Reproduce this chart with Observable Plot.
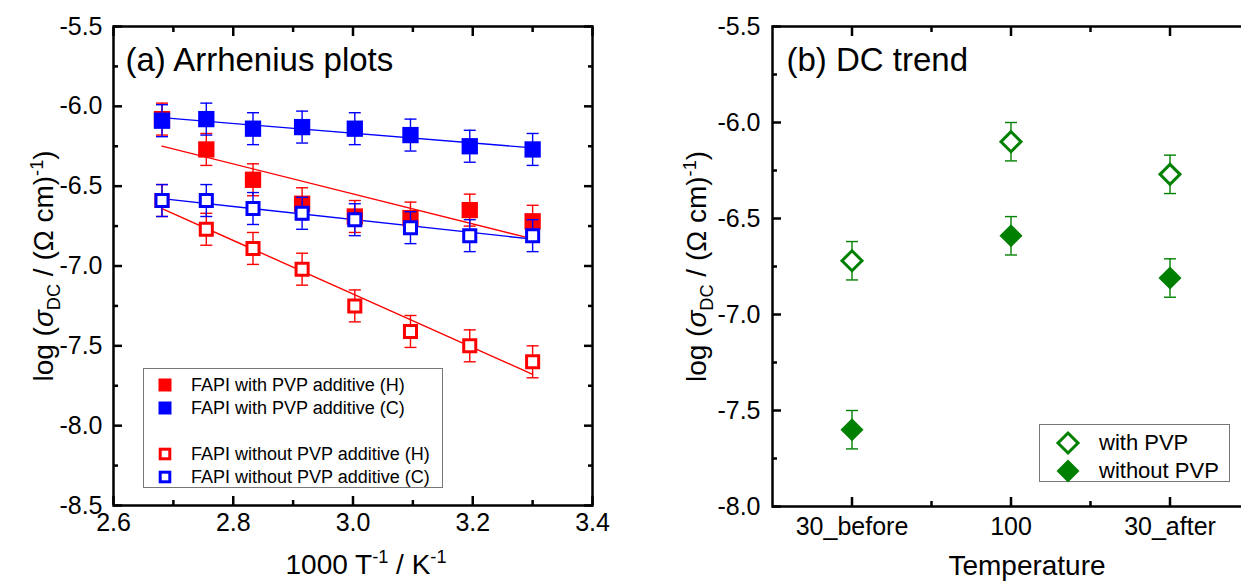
<!DOCTYPE html>
<html><head><meta charset="utf-8">
<script src="https://cdn.jsdelivr.net/npm/d3@7"></script>
<script src="https://cdn.jsdelivr.net/npm/@observablehq/plot@0.6"></script>
<style>
html,body{margin:0;padding:0;background:#fff;width:1241px;height:581px;overflow:hidden;}
#wrap{position:relative;width:1241px;height:581px;overflow:hidden;font-family:"Liberation Sans",Arial,sans-serif;color:#000;}
.panel{position:absolute;top:0;}
.panel svg{max-width:none !important;display:block;}
.legend{position:absolute;border:1px solid #777;background:#fff;box-sizing:border-box;}
.legend .row{position:absolute;left:0;height:0;white-space:nowrap;}
.legend .row svg{position:absolute;overflow:visible;}
.legend .row span{position:absolute;top:0;transform:translateY(-50%);line-height:1;}
</style></head>
<body><div id="wrap"></div>
<script>
// ---------- Panel (a) data ----------
const invT   = [2.681, 2.755, 2.833, 2.915, 3.003, 3.096, 3.195, 3.300];
const pvpH   = [-6.08, -6.27, -6.46, -6.61, -6.69, -6.70, -6.65, -6.72];
const pvpC   = [-6.09, -6.08, -6.14, -6.13, -6.14, -6.18, -6.25, -6.27];
const noPvpH = [-6.59, -6.77, -6.89, -7.02, -7.25, -7.41, -7.50, -7.60];
const noPvpC = [-6.59, -6.59, -6.64, -6.67, -6.71, -6.76, -6.81, -6.81];
const errA = 0.1;
const seriesNamesA = ["FAPI with PVP additive (H)", "FAPI with PVP additive (C)", "FAPI without PVP additive (H)", "FAPI without PVP additive (C)"];
const seriesColorsA = ["#ff0000", "#0000ff", "#ff0000", "#0000ff"];
const seriesFilledA = [true, true, false, false];
const xTicksA = [2.6, 2.8, 3.0, 3.2, 3.4];
const xMinorA = [2.7, 2.9, 3.1, 3.3];
const yTicksA = [-8.5, -8.0, -7.5, -7.0, -6.5, -6.0, -5.5];
const yMinorA = [-8.25, -7.75, -7.25, -6.75, -6.25, -5.75];

// ---------- Panel (b) data ----------
const categories = ["30_before", "100", "30_after"];
const withPVP    = [-6.72, -6.10, -6.27];
const withoutPVP = [-7.60, -6.59, -6.81];
const errB = 0.1;
const seriesNamesB = ["with PVP", "without PVP"];
const greenB = "#008000";
const yTicksB = [-8.0, -7.5, -7.0, -6.5, -6.0, -5.5];
const yMinorB = [-7.75, -7.25, -6.75, -6.25, -5.75];
const xMinorB = [1.5, 2.5];

const FONT = "Liberation Sans, Arial, sans-serif";
const TICKFS = 25;
const capSymbol = {draw(ctx) { ctx.moveTo(-6, 0); ctx.lineTo(6, 0); }};

function frameAxes(xMajor, xMinor, yMajor, yMinor, xFmt, yFmt, xPad, yPad) {
  const tk = {stroke: "black", strokeWidth: 2.5, label: null, text: null};
  return [
    Plot.axisX({anchor: "bottom", ticks: xMajor, tickSize: -9, ...tk}),
    Plot.axisX({anchor: "bottom", ticks: xMinor, tickSize: -5, ...tk}),
    Plot.axisX({anchor: "top", ticks: xMajor, tickSize: -9, ...tk}),
    Plot.axisX({anchor: "top", ticks: xMinor, tickSize: -5, ...tk}),
    Plot.axisY({anchor: "left", ticks: yMajor, tickSize: -9, ...tk}),
    Plot.axisY({anchor: "left", ticks: yMinor, tickSize: -5, ...tk}),
    Plot.axisY({anchor: "right", ticks: yMajor, tickSize: -9, ...tk}),
    Plot.axisY({anchor: "right", ticks: yMinor, tickSize: -5, ...tk}),
    Plot.axisX({anchor: "bottom", ticks: xMajor, tickSize: 0, tickPadding: xPad, tickFormat: xFmt, fontSize: TICKFS, label: null, fill: "black"}),
    Plot.axisY({anchor: "left", ticks: yMajor, tickSize: 0, tickPadding: yPad, tickFormat: yFmt, fontSize: TICKFS, label: null, fill: "black"}),
    Plot.frame({stroke: "black", strokeWidth: 2.5})
  ];
}

function richify(svg, plain, parts, fs) {
  svg.querySelectorAll("text").forEach(t => {
    if (t.textContent !== plain) return;
    t.textContent = "";
    let shift = 0;
    for (const p of parts) {
      const ts = document.createElementNS("http://www.w3.org/2000/svg", "tspan");
      ts.textContent = p.t;
      const target = p.sub ? 0.22 * fs : p.sup ? -0.38 * fs : 0;
      const d = target - shift;
      if (d) ts.setAttribute("dy", d);
      shift = target;
      if (p.sub || p.sup) ts.setAttribute("font-size", 0.65 * fs);
      if (p.it) ts.setAttribute("font-style", "italic");
      t.appendChild(ts);
    }
  });
}

const yTitlePlain = "log (σDC / (Ω cm)-1)";
const yTitleParts = [{t: "log ("}, {t: "σ", it: true}, {t: "DC", sub: true}, {t: " / (Ω cm)"}, {t: "-1", sup: true}, {t: ")"}];
const xTitleAPlain = "1000 T-1 / K-1";
const xTitleAParts = [{t: "1000 T"}, {t: "-1", sup: true}, {t: " / K"}, {t: "-1", sup: true}];
const YFS = 28;

// ---------- Panel (a) ----------
const seriesA = [pvpH, pvpC, noPvpH, noPvpC].map((vals, i) => ({
  name: seriesNamesA[i], color: seriesColorsA[i], filled: seriesFilledA[i],
  rows: vals.map((v, j) => ({x: invT[j], y: v}))
}));

const marksA = [];
for (const s of seriesA) {
  marksA.push(Plot.linearRegressionY(s.rows, {x: "x", y: "y", stroke: s.color, strokeWidth: 1.4, ci: 0}));
}
for (const s of seriesA) {
  marksA.push(Plot.ruleX(s.rows, {x: "x", y1: d => d.y - errA, y2: d => d.y + errA, stroke: s.color, strokeWidth: 1.4}));
  marksA.push(Plot.dot(s.rows, {x: "x", y: d => d.y - errA, symbol: capSymbol, stroke: s.color, fill: "none", strokeWidth: 1.4}));
  marksA.push(Plot.dot(s.rows, {x: "x", y: d => d.y + errA, symbol: capSymbol, stroke: s.color, fill: "none", strokeWidth: 1.4}));
  if (s.filled) marksA.push(Plot.dot(s.rows, {x: "x", y: "y", symbol: "square", r: 9.2, fill: s.color, stroke: "none"}));
  else marksA.push(Plot.dot(s.rows, {x: "x", y: "y", symbol: "square", r: 6.8, fill: "white", stroke: s.color, strokeWidth: 3}));
}

const plotA = Plot.plot({
  width: 620, height: 581,
  marginLeft: 113, marginRight: 28, marginTop: 26, marginBottom: 76,
  style: {fontFamily: FONT, color: "black", background: "white", maxWidth: "none"},
  x: {domain: [2.6, 3.4]},
  y: {domain: [-8.5, -5.5]},
  marks: [
    ...marksA,
    ...frameAxes(xTicksA, xMinorA, yTicksA, yMinorA, d => d.toFixed(1), d => d.toFixed(1), 8, 11),
    Plot.text(["(a) Arrhenius plots"], {text: d => d, frameAnchor: "top-left", textAnchor: "start", lineAnchor: "bottom", dx: 12, dy: 44, fontSize: 33, fill: "black"}),
    Plot.text([xTitleAPlain], {text: d => d, frameAnchor: "bottom", textAnchor: "middle", lineAnchor: "bottom", dx: 13, dy: 68, fontSize: 28, fill: "black"}),
    Plot.text([yTitlePlain], {text: d => d, frameAnchor: "left", textAnchor: "middle", lineAnchor: "middle", rotate: -90, dx: -69, fontSize: YFS, fill: "black"})
  ]
});
richify(plotA, yTitlePlain, yTitleParts, YFS);
richify(plotA, xTitleAPlain, xTitleAParts, 28);

// ---------- Panel (b) ----------
const rowsWith = withPVP.map((v, i) => ({x: i + 1, y: v}));
const rowsWithout = withoutPVP.map((v, i) => ({x: i + 1, y: v}));
const marksB = [];
for (const rows of [rowsWith, rowsWithout]) {
  marksB.push(Plot.ruleX(rows, {x: "x", y1: d => d.y - errB, y2: d => d.y + errB, stroke: greenB, strokeWidth: 1.4}));
  marksB.push(Plot.dot(rows, {x: "x", y: d => d.y - errB, symbol: capSymbol, stroke: greenB, fill: "none", strokeWidth: 1.4}));
  marksB.push(Plot.dot(rows, {x: "x", y: d => d.y + errB, symbol: capSymbol, stroke: greenB, fill: "none", strokeWidth: 1.4}));
}
marksB.push(Plot.dot(rowsWith, {x: "x", y: "y", symbol: "diamond2", r: 9, fill: "white", stroke: greenB, strokeWidth: 3}));
marksB.push(Plot.dot(rowsWithout, {x: "x", y: "y", symbol: "diamond2", r: 10.4, fill: greenB, stroke: "none"}));

const plotB = Plot.plot({
  width: 640, height: 581,
  marginLeft: 132, marginRight: 31, marginTop: 26, marginBottom: 75,
  style: {fontFamily: FONT, color: "black", background: "white", maxWidth: "none"},
  x: {domain: [0.5, 3.5]},
  y: {domain: [-8.0, -5.5]},
  marks: [
    ...marksB,
    ...frameAxes([1, 2, 3], xMinorB, yTicksB, yMinorB, d => categories[d - 1], d => d.toFixed(1), 11, 12),
    Plot.text(["(b) DC trend"], {text: d => d, frameAnchor: "top-left", textAnchor: "start", lineAnchor: "bottom", dx: 14, dy: 44, fontSize: 33, fill: "black"}),
    Plot.text(["Temperature"], {text: d => d, frameAnchor: "bottom", textAnchor: "middle", lineAnchor: "bottom", dx: 16, dy: 68, fontSize: 28, fill: "black"}),
    Plot.text([yTitlePlain], {text: d => d, frameAnchor: "left", textAnchor: "middle", lineAnchor: "middle", rotate: -90, dx: -75, fontSize: YFS, fill: "black"})
  ]
});
richify(plotB, yTitlePlain, yTitleParts, YFS);

// ---------- Layout ----------
const wrap = document.getElementById("wrap");
const pa = document.createElement("div"); pa.className = "panel"; pa.style.left = "0px"; pa.style.width = "620px"; pa.appendChild(plotA); wrap.appendChild(pa);
const pb = document.createElement("div"); pb.className = "panel"; pb.style.left = "640px"; pb.style.width = "640px"; pb.appendChild(plotB); wrap.appendChild(pb);

// ---------- Legends ----------
const NS = "http://www.w3.org/2000/svg";
function markerSvg(kind, color, filled) {
  const s = document.createElementNS(NS, "svg");
  s.setAttribute("width", 30); s.setAttribute("height", 30);
  let el;
  if (kind === "square") {
    el = document.createElementNS(NS, "rect");
    if (filled) { el.setAttribute("x", -6.5); el.setAttribute("y", -6.5); el.setAttribute("width", 13); el.setAttribute("height", 13); el.setAttribute("fill", color); }
    else { el.setAttribute("x", -4.8); el.setAttribute("y", -4.8); el.setAttribute("width", 9.6); el.setAttribute("height", 9.6); el.setAttribute("fill", "white"); el.setAttribute("stroke", color); el.setAttribute("stroke-width", 3); }
  } else {
    el = document.createElementNS(NS, "path");
    const r = filled ? 11.5 : 10;
    el.setAttribute("d", `M0,${-r}L${r},0L0,${r}L${-r},0Z`);
    el.setAttribute("fill", filled ? color : "white");
    if (!filled) { el.setAttribute("stroke", color); el.setAttribute("stroke-width", 3); }
  }
  const g = document.createElementNS(NS, "g");
  g.setAttribute("transform", "translate(15,15)");
  g.appendChild(el); s.appendChild(g);
  return s;
}
function legend(box, rows) {
  const L = document.createElement("div");
  L.className = "legend";
  Object.assign(L.style, {left: box.left + "px", top: box.top + "px", width: box.width + "px", height: box.height + "px"});
  for (const r of rows) {
    const row = document.createElement("div");
    row.className = "row"; row.style.top = r.y + "px";
    const m = markerSvg(r.kind, r.color, r.filled);
    m.style.left = (r.mx - 15) + "px"; m.style.top = "-15px";
    const t = document.createElement("span");
    t.textContent = r.label; t.style.left = r.tx + "px"; t.style.fontSize = r.fs + "px";
    row.appendChild(m); row.appendChild(t); L.appendChild(row);
  }
  wrap.appendChild(L);
}
const legYA = [16, 39, 85, 108];
legend({left: 143, top: 368, width: 300, height: 120}, seriesA.map((s, i) => ({
  y: legYA[i], kind: "square", color: s.color, filled: s.filled, label: s.name, mx: 21, tx: 47, fs: 18
})));
legend({left: 1039, top: 424, width: 191, height: 58}, seriesNamesB.map((n, i) => ({
  y: [18, 46][i], kind: "diamond", color: greenB, filled: i === 1, label: n, mx: 28, tx: 59, fs: 22
})));
</script>
</body></html>
